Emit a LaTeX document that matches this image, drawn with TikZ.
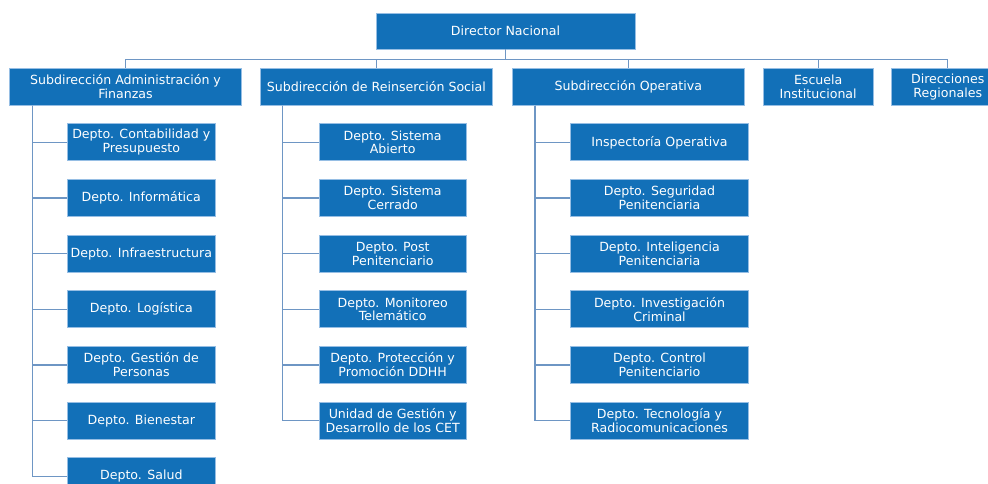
\documentclass[tikz,border=0pt]{standalone}
\usepackage{fontspec}
\setmainfont{DejaVu Sans}
\definecolor{boxblue}{RGB}{18,112,184}
\definecolor{boxedge}{RGB}{150,190,228}
\definecolor{linkblue}{RGB}{110,150,196}
\begin{document}
\begin{tikzpicture}[x=1pt,y=-1pt,
  box/.style={draw=boxedge, line width=0.8pt, fill=boxblue, text=white, align=center,
    minimum height=37pt, inner sep=0.5pt, font=\fontsize{12.6}{13.8}\selectfont},
  link/.style={draw=linkblue, line width=1.3pt}]
\useasboundingbox (0,0) rectangle (988,484);
% top
\node[box, minimum width=259pt, minimum height=36pt] (dn) at (505.5,31) {Director Nacional};
\coordinate (bus) at (0,59.3);
\node[box, minimum width=232pt] (sa) at (125.5,86.8) {Subdirección Administración y\\Finanzas};
\node[box, minimum width=232.7pt] (sr) at (376.3,86.8) {Subdirección de Reinserción Social};
\node[box, minimum width=232.7pt] (so) at (628.3,86.8) {Subdirección Operativa};
\node[box, minimum width=109.7pt] (ei) at (818.2,86.8) {Escuela\\Institucional};
\node[box, minimum width=112pt] (drg) at (947.7,86.8) {Direcciones\\Regionales};
% bus
\draw[link] (dn.south) -- (dn.south |- bus);
\draw[link] (sa.north) -- (sa.north |- bus) -- (drg.north |- bus) -- (drg.north);
\foreach \n in {sr,so,ei} \draw[link] (\n.north) -- (\n.north |- bus);
% stems
\coordinate (stA) at (32.3,0);
\coordinate (stR) at (282.7,0);
\coordinate (stO) at (535,0);
% Admin column
\foreach \i/\t in {1/{Depto. Contabilidad y\\Presupuesto},2/{Depto. Informática},3/{Depto. Infraestructura},4/{Depto. Logística},5/{Depto. Gestión de\\Personas},6/{Depto. Bienestar},7/{Depto. Salud}}{
  \node[box, minimum width=148pt] (a\i) at (141.3,{142.3+55.65*(\i-1)}) {\t};
  \draw[link] (stA |- sa.south) |- (a\i.west);
}
% Reinsercion column
\foreach \i/\t in {1/{Depto. Sistema\\Abierto},2/{Depto. Sistema\\Cerrado},3/{Depto. Post\\Penitenciario},4/{Depto. Monitoreo\\Telemático},5/{Depto. Protección y\\Promoción DDHH},6/{Unidad de Gestión y\\Desarrollo de los CET}}{
  \node[box, minimum width=147.3pt] (r\i) at (392.7,{142.3+55.65*(\i-1)}) {\t};
  \draw[link] (stR |- sr.south) |- (r\i.west);
}
% Operativa column
\foreach \i/\t in {1/{Inspectoría Operativa},2/{Depto. Seguridad\\Penitenciaria},3/{Depto. Inteligencia\\Penitenciaria},4/{Depto. Investigación\\Criminal},5/{Depto. Control\\Penitenciario},6/{Depto. Tecnología y\\Radiocomunicaciones}}{
  \node[box, minimum width=178.4pt] (o\i) at (659.5,{142.3+55.65*(\i-1)}) {\t};
  \draw[link] (stO |- so.south) |- (o\i.west);
}
\end{tikzpicture}
\end{document}
